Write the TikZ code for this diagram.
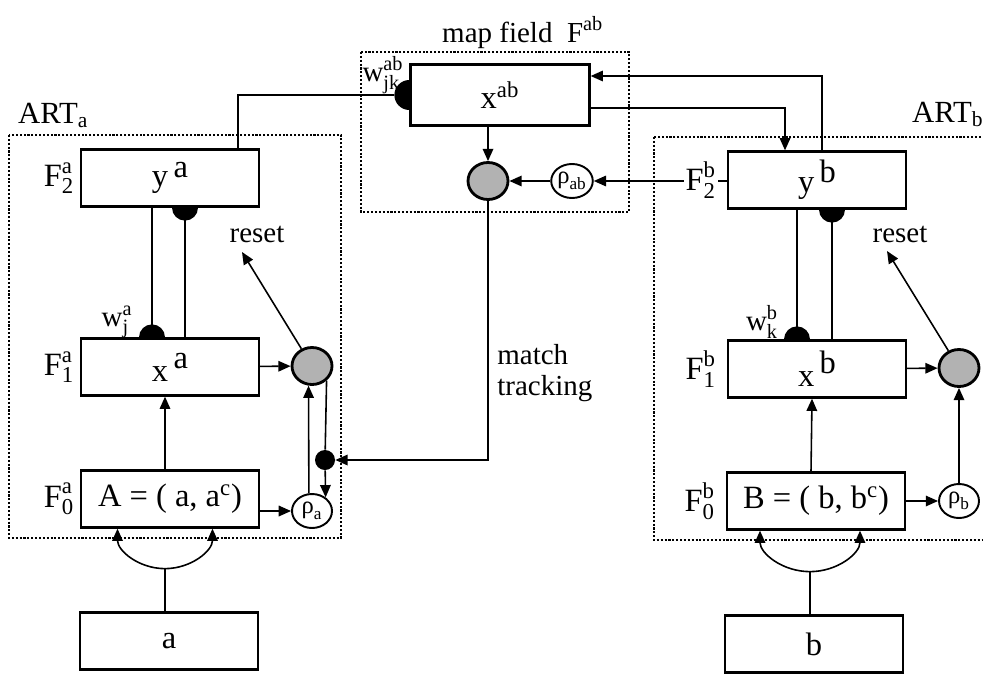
\documentclass[tikz,border=0pt]{standalone}
\usepackage{amsmath}
\usepackage{fontspec}
\setmainfont{Liberation Serif}
\usepackage{tikz}
\usetikzlibrary{arrows.meta,positioning,calc,shapes.geometric}

\begin{document}
\begin{tikzpicture}[x=0.02cm, y=-0.02cm,
    font=\fontsize{16.5}{18}\selectfont,
    layer/.style={rectangle, draw, line width=1.3pt, minimum width=3.56cm,
        minimum height=1.14cm, inner sep=0pt, font=\fontsize{18.5}{20}\selectfont},
    orient/.style={ellipse, draw, line width=1.6pt, fill=gray!60,
        minimum width=0.8cm, minimum height=0.74cm, inner sep=0pt},
    vig/.style={ellipse, draw, line width=1.1pt, minimum width=0.8cm,
        minimum height=0.68cm, inner sep=0pt, font=\fontsize{14}{15}\selectfont},
    gate/.style={circle, fill=black, minimum size=0.4cm, inner sep=0pt},
    fld/.style={fill=white, inner sep=1pt, font=\fontsize{18.5}{20}\selectfont},
    module/.style={densely dotted, line width=1.2pt},
    wire/.style={line width=0.9pt},
    arr/.style={-{Triangle[length=7pt,width=6pt]}, line width=0.9pt},
    dbl/.style={{Triangle[length=7pt,width=6pt]}-{Triangle[length=7pt,width=6pt]}, line width=0.9pt}
]
    \useasboundingbox (0,0) rectangle (983,673);
    \clip (0,0) rectangle (983,673);

    % ART_a module
    \draw[module] (9,135) rectangle (341,538);
    \node[anchor=base west, font=\fontsize{17.5}{19}\selectfont] (arta) at (12,123) {ART\textsubscript{a}};
    \node[layer] (f2a) at (170,178) {y\,\raisebox{0.3em}{a}};
    \node[layer] (f1a) at (170,367) {x\,\raisebox{0.4em}{a}};
    \node[layer] (f0a) at (170,499) {A = ( a, a$^{\text{c}}$)};
    \node[layer] (ina) at (169,641) {a};
    \node[orient] (resa) at (312,366) {};
    \node[vig] (rhoa) at (312,511) {$\text{ρ}_{\text{a}}$};
    \node[gate] (dota) at (325,460) {};
    \node (rsta) at (257,234) {reset};
    \coordinate (tipa) at (242,252);
    \node (wla) at (117,322) {$\text{w}^{\text{a}}_{\text{j}}$};

    % map field
    \draw[module] (361,52) rectangle (629,212);
    \node[anchor=base west] (mft) at (436,42) {map field\ \ $\text{F}^{\text{ab}}$};
    \node[layer, minimum width=3.58cm, minimum height=1.22cm] (xab) at (500,95) {$\text{x}^{\text{ab}}$};
    \node[orient] (mfab) at (488,181) {};
    \node[vig] (rhoab) at (572,181) {$\text{ρ}_{\text{ab}}$};
    \node (wlab) at (383,75) {$\text{w}^{\text{ab}}_{\text{jk}}$};
    \node[anchor=north west, align=left, inner sep=0pt,
        font=\fontsize{16.5}{17.5}\selectfont] (mtl) at (497,344) {match\\tracking};

    % ART_b module
    \draw[module] (654,137) rectangle (1000,540);
    \node[anchor=base west, font=\fontsize{17.5}{19}\selectfont] (artb) at (906,122) {ART\textsubscript{b}};
    \node[layer] (f2b) at (817,180) {y\,\raisebox{0.3em}{b}};
    \node[layer] (f1b) at (817,369) {x\,\raisebox{0.4em}{b}};
    \node[layer] (f0b) at (816,501) {B = ( b, b$^{\text{c}}$)};
    \node[layer] (inb) at (814,644) {b};
    \node[orient] (resb) at (959,368) {};
    \node[vig] (rhob) at (959,501) {$\text{ρ}_{\text{b}}$};
    \node (rstb) at (900,234) {reset};
    \coordinate (tipb) at (887,251);
    \node (wlb) at (762,322) {$\text{w}^{\text{b}}_{\text{k}}$};

    % ART_a wiring
    \coordinate (wa) at ([xshift=-0.36cm]f1a.north);
    \coordinate (va) at ([xshift=0.3cm]f2a.south);
    \draw[wire] (wa) -- (wa |- f2a.south);
    \draw[wire] (va) -- (va |- f1a.north);
    \fill ([xshift=-0.26cm]wa) arc[start angle=180, end angle=0, radius=0.26cm] -- cycle;
    \fill ([xshift=-0.26cm]va) arc[start angle=180, end angle=360, radius=0.26cm] -- cycle;
    \draw[arr] ([xshift=-0.1cm]f0a.north) -- ([xshift=-0.1cm]f1a.south);
    \draw[arr] (f1a) -- (resa);
    \draw[arr] (f0a.east |- rhoa) -- (rhoa);
    \draw[arr] (rhoa.100) -- (resa.260);
    \draw[wire] (resa.-45) -- (dota);
    \draw[arr] (dota) -- (rhoa.45);
    \draw[arr] (resa) -- (tipa);
    \coordinate (ja) at ([xshift=-0.1cm, yshift=-0.8cm]f0a.south);
    \draw[dbl] ([xshift=-1.05cm]f0a.south) arc[start angle=180, end angle=360, x radius=0.95cm, y radius=0.8cm];
    \draw[wire] (ja) -- (ja |- ina.north);

    % map field wiring
    \coordinate (wab) at ([xshift=-0.3cm]xab.west);
    \draw[wire] ([xshift=1.36cm]f2a.north) |- (wab);
    \fill ([yshift=0.3cm]xab.west) arc[start angle=90, end angle=270, radius=0.3cm] -- cycle;
    \draw[arr] (xab.south -| mfab) -- (mfab);
    \draw[arr] (rhoab) -- (mfab);
    \draw[arr] (f2b.west |- rhoab) -- (rhoab);
    \draw[arr] ([xshift=0.1cm]f2b.north) |- ([yshift=0.38cm]xab.east);
    \draw[arr] ([yshift=-0.26cm]xab.east) -| ([xshift=-0.64cm]f2b.north);
    \draw[arr] (mfab) |- (dota);

    % ART_b wiring
    \coordinate (wb) at ([xshift=-0.4cm]f1b.north);
    \coordinate (vb) at ([xshift=0.3cm]f2b.south);
    \draw[wire] (wb) -- (wb |- f2b.south);
    \draw[wire] (vb) -- (vb |- f1b.north);
    \fill ([xshift=-0.26cm]wb) arc[start angle=180, end angle=0, radius=0.26cm] -- cycle;
    \fill ([xshift=-0.26cm]vb) arc[start angle=180, end angle=360, radius=0.26cm] -- cycle;
    \draw[arr] ([xshift=-0.1cm]f0b.north) -- ([xshift=-0.1cm]f1b.south);
    \draw[arr] (f1b) -- (resb);
    \draw[arr] (f0b.east |- rhob) -- (rhob);
    \draw[arr] (rhob) -- (resb);
    \draw[arr] (resb) -- (tipb);
    \coordinate (jb) at ([xshift=-0.12cm, yshift=-0.82cm]f0b.south);
    \draw[dbl] ([xshift=-1.12cm]f0b.south) arc[start angle=180, end angle=360, x radius=1.0cm, y radius=0.82cm];
    \draw[wire] (jb) -- (jb |- inb.north);

    % layer labels, on top of the wires
    \node[fld, left=2pt of f2a] (lf2a) {$\text{F}^{\text{a}}_{\text{2}}$};
    \node[fld, left=2pt of f1a] (lf1a) {$\text{F}^{\text{a}}_{\text{1}}$};
    \node[fld, left=2pt of f0a] (lf0a) {$\text{F}^{\text{a}}_{\text{0}}$};
    \node[fld, left=5pt of f2b] (lf2b) {$\text{F}^{\text{b}}_{\text{2}}$};
    \node[fld, left=5pt of f1b] (lf1b) {$\text{F}^{\text{b}}_{\text{1}}$};
    \node[fld, left=5pt of f0b] (lf0b) {$\text{F}^{\text{b}}_{\text{0}}$};
\end{tikzpicture}
\end{document}
